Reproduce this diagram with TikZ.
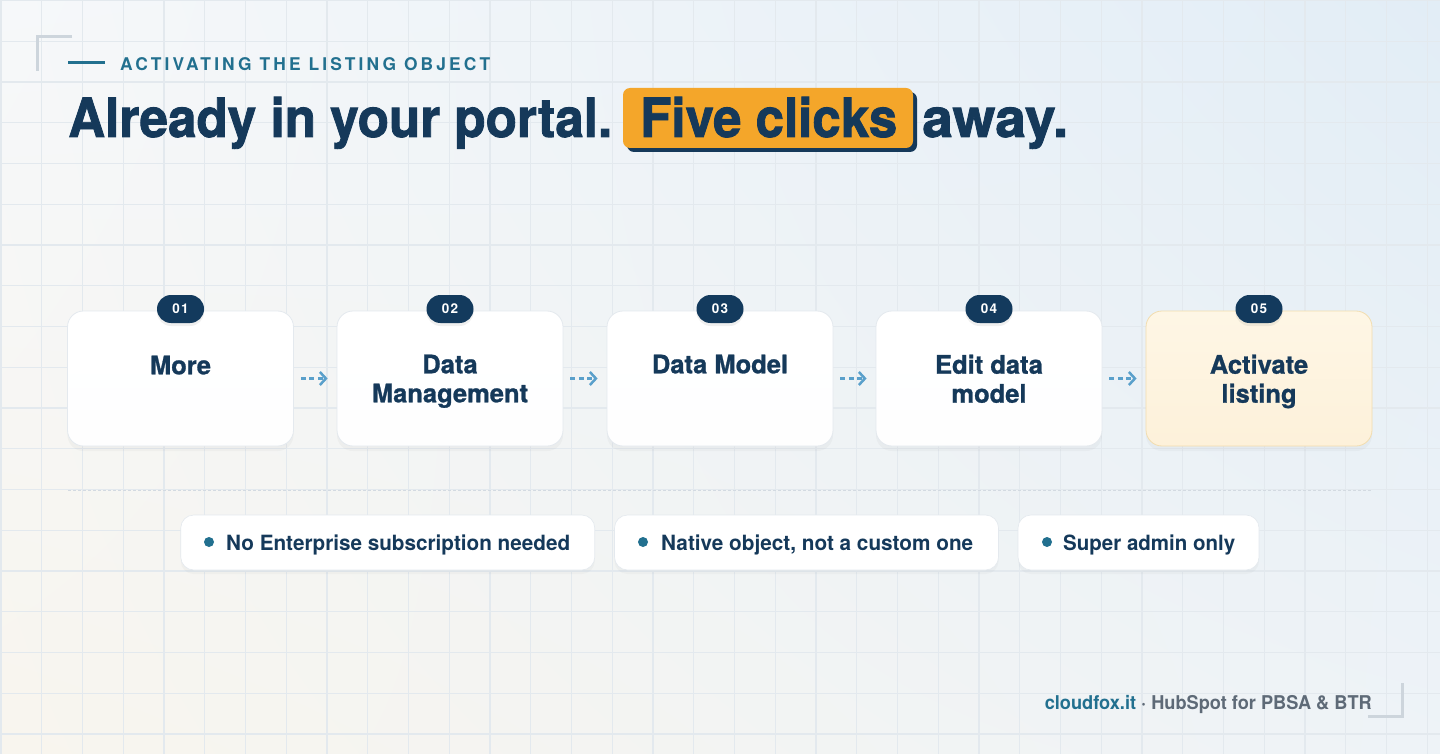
\documentclass[tikz,border=0pt]{standalone}
\usepackage{fontspec}
\usepackage{graphicx}
\setmainfont{TeX Gyre Heros}
\newfontfamily\spacedfont{TeX Gyre Heros}[LetterSpace=18]
\newfontfamily\badgefont{TeX Gyre Heros}[LetterSpace=10]
\newfontfamily\heavyfont{TeX Gyre Heros}[BoldFeatures={FakeBold=1.6}]
\newfontfamily\semiheavyfont{TeX Gyre Heros}[BoldFeatures={FakeBold=1.0}]
\usetikzlibrary{arrows.meta,shadows,shadings}
\definecolor{navy}{HTML}{15395A}
\definecolor{badgenavy}{HTML}{133A5D}
\definecolor{tealc}{HTML}{22708F}
\definecolor{arrowc}{HTML}{5AA0CB}
\definecolor{orangec}{HTML}{F4A62A}
\definecolor{footgray}{HTML}{5E6A77}
\definecolor{gridc}{HTML}{E3E9EE}
\definecolor{bracketc}{HTML}{CDD5DC}
\definecolor{boxline}{HTML}{E4E9EE}
\definecolor{creamtop}{HTML}{FEF6E5}
\definecolor{creambot}{HTML}{FDF1DA}
\definecolor{creamline}{HTML}{F2DDAF}
\definecolor{bgUL}{HTML}{F6F8FA}
\definecolor{bgUR}{HTML}{E2EDF6}
\definecolor{bgLL}{HTML}{F8F5EE}
\definecolor{bgLR}{HTML}{EEF3F7}
\definecolor{sepc}{HTML}{D3DAE1}
\newcommand{\fitw}[2]{\resizebox{#1}{\height}{#2}}
\begin{document}
\begin{tikzpicture}[x=1pt,y=-1pt,
  gridline/.style={draw=gridc,line width=1.1pt},
  bracket/.style={draw=bracketc,line width=3pt},
  stepbox/.style={rounded corners=16pt,minimum width=226pt,minimum height=135pt,
    top color=white,bottom color=white!96!boxline,draw=boxline,line width=0.8pt,
    drop shadow={opacity=0.06,shadow xshift=0pt,shadow yshift=-5pt}},
  finalbox/.style={stepbox,top color=creamtop,bottom color=creambot,draw=creamline},
  badge/.style={fill=badgenavy,rounded corners=14pt,minimum width=47pt,minimum height=28pt,
    inner sep=0pt,text=white,font=\badgefont\bfseries\fontsize{13.5}{13.5}\selectfont,
    drop shadow={opacity=0.12,shadow xshift=0pt,shadow yshift=-3pt}},
  steplabel/.style={anchor=north,inner sep=0pt,text=navy,align=center,
    font=\semiheavyfont\bfseries\fontsize{25.5}{29}\selectfont},
  flowarrow/.style={draw=arrowc,line width=2.5pt,dash pattern=on 5pt off 3.5pt,
    shorten <=7pt,shorten >=9pt,-{Straight Barb[length=6pt,width=13pt]}},
  pill/.style={fill=white,rounded corners=13pt,minimum height=55pt,draw=boxline,line width=0.6pt,
    drop shadow={opacity=0.05,shadow xshift=0pt,shadow yshift=-4pt}},
  dot/.style={circle,fill=tealc,minimum size=10pt,inner sep=0pt},
  pilltext/.style={anchor=base west,inner sep=0pt,text=navy,font=\bfseries\fontsize{21}{21}\selectfont},
  headtext/.style={anchor=base west,inner sep=0pt,text=navy,font=\heavyfont\bfseries\fontsize{54}{54}\selectfont}
]
\useasboundingbox (0,0) rectangle (1440,754);
% background
\shade[upper left=bgUL,upper right=bgUR,lower left=bgLL,lower right=bgLR] (0,0) rectangle (1440,754);
\foreach \i in {0,...,35} \draw[gridline] ({1+\i*40.75},0) -- ({1+\i*40.75},754);
\foreach \j in {0,...,18} \draw[gridline] (0,{0.5+\j*40.75}) -- (1440,{0.5+\j*40.75});
% corner brackets
\draw[bracket] (72,37) -- (37,37) -- (37,71);
\draw[bracket] (1368,716) -- (1402,716) -- (1402,683);
% eyebrow
\coordinate (eyeL) at (68,63);
\coordinate (eyeR) at (105,63);
\draw[tealc,line width=3pt] (eyeL) -- (eyeR);
\node[anchor=base west,inner sep=0pt,text=tealc] (eyebrow) at (120,70.5)
  {\spacedfont\bfseries\fontsize{17.5}{17.5}\selectfont\fitw{370pt}{ACTIVATING THE LISTING OBJECT}};
% heading
\node[headtext] (h1) at (68,137) {\fitw{544pt}{Already in your portal.}};
\node[minimum width=290pt,minimum height=60pt,rounded corners=7pt,fill=orangec,
  drop shadow={fill=navy,opacity=1,shadow xshift=4pt,shadow yshift=-4pt}] (hlbox) at (768,118) {};
\node[headtext] (h2) at (640,137) {\fitw{257pt}{Five clicks}};
\node[headtext] (h3) at (922,137) {\fitw{146pt}{away.}};
% steps
\node[stepbox] (s1) at (180.5,378.5) {};
\node[stepbox] (s2) at (450,378.5) {};
\node[stepbox] (s3) at (720,378.5) {};
\node[stepbox] (s4) at (989,378.5) {};
\node[finalbox] (s5) at (1259,378.5) {};
\node[badge] (b1) at (180.5,309) {01};
\node[badge] (b2) at (450,309) {02};
\node[badge] (b3) at (720,309) {03};
\node[badge] (b4) at (989,309) {04};
\node[badge] (b5) at (1259,309) {05};
\node[steplabel] (l1) at (180.5,355.5) {More};
\node[steplabel] (l2) at (450,354.5) {Data\\Management};
\node[steplabel] (l3) at (720,354.5) {Data Model};
\node[steplabel] (l4) at (989,354.5) {Edit data\\model};
\node[steplabel] (l5) at (1259,354.5) {Activate\\listing};
\draw[flowarrow] (s1) -- (s2);
\draw[flowarrow] (s2) -- (s3);
\draw[flowarrow] (s3) -- (s4);
\draw[flowarrow] (s4) -- (s5);
% separator
\coordinate (sepL) at (68,490.5);
\coordinate (sepR) at (1372,490.5);
\draw[sepc,line width=1pt,dash pattern=on 3pt off 2pt] (sepL) -- (sepR);
% pills
\node[pill,minimum width=414pt] (p1) at (387.75,542.5) {};
\node[pill,minimum width=384pt] (p2) at (806.5,542.5) {};
\node[pill,minimum width=241pt] (p3) at (1138.5,542.5) {};
\node[dot] (d1) at (209,542) {};
\node[dot] (d2) at (643,542) {};
\node[dot] (d3) at (1047,542) {};
\node[pilltext] (t1) at (226,550) {\fitw{344pt}{No Enterprise subscription needed}};
\node[pilltext] (t2) at (661,550) {\fitw{312pt}{Native object, not a custom one}};
\node[pilltext] (t3) at (1063,550) {\fitw{172pt}{Super admin only}};
% footer
\node[anchor=base east,inner sep=0pt] (foot) at (1372,709)
  {\bfseries\fontsize{19}{19}\selectfont\fitw{327pt}{\textcolor{tealc}{cloudfox.it}\textcolor{footgray}{\ ·\ HubSpot for PBSA \& BTR}}};
\end{tikzpicture}
\end{document}
